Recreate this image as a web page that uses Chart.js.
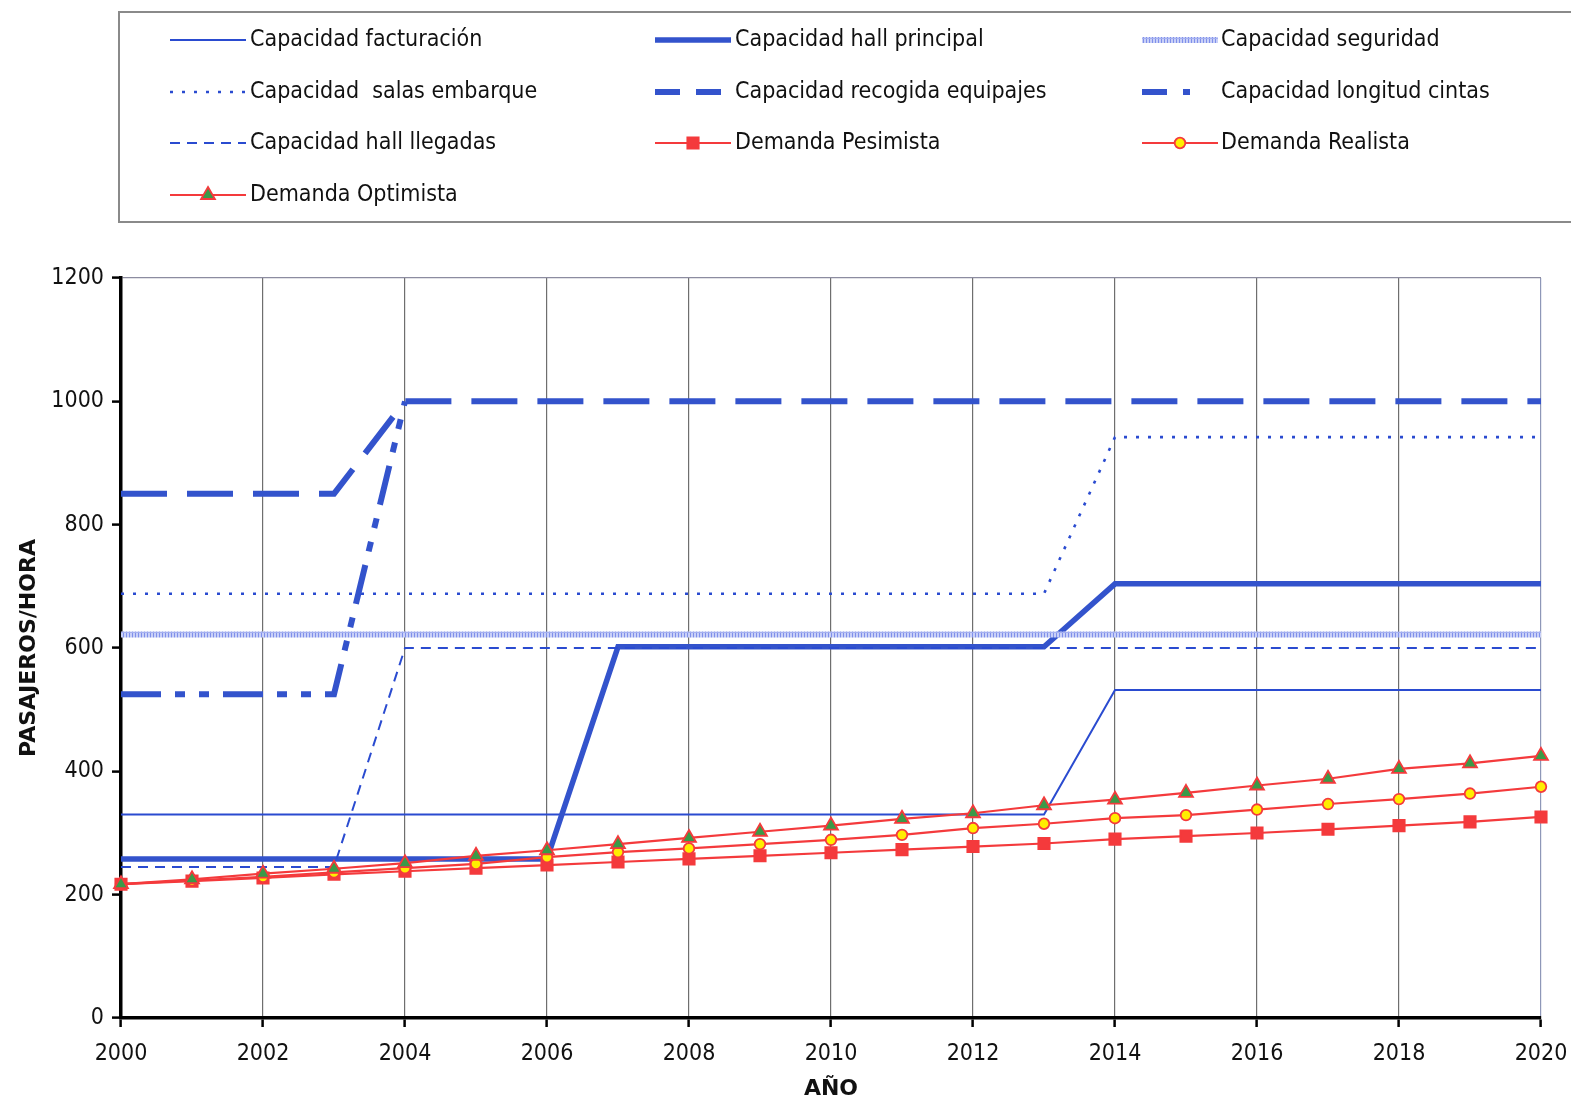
<!DOCTYPE html>
<html>
<head>
<meta charset="utf-8">
<script src="https://cdn.jsdelivr.net/npm/chart.js@4/dist/chart.umd.min.js"></script>
<style>
  html, body { margin: 0; padding: 0; background: #ffffff; }
  #wrap { width: 1571px; height: 1104px; }
</style>
</head>
<body>
<div id="wrap"><canvas id="c" width="1571" height="1104"></canvas></div>
<script>
// Years on the horizontal axis
const years = [2000,2001,2002,2003,2004,2005,2006,2007,2008,2009,2010,2011,2012,2013,2014,2015,2016,2017,2018,2019,2020];
const xTicks = [2000,2002,2004,2006,2008,2010,2012,2014,2016,2018,2020];
const yTicks = [0,200,400,600,800,1000,1200];

// Capacities (passengers / hour)
const capFacturacion   = [330,330,330,330,330,330,330,330,330,330,330,330,330,330,532,532,532,532,532,532,532];
const capHallPrincipal = [258,258,258,258,258,258,258,602,602,602,602,602,602,602,704,704,704,704,704,704,704];
const capSeguridad     = [622,622,622,622,622,622,622,622,622,622,622,622,622,622,622,622,622,622,622,622,622];
const capSalas         = [688,688,688,688,688,688,688,688,688,688,688,688,688,688,942,942,942,942,942,942,942];
const capRecogida      = [850,850,850,850,1000,1000,1000,1000,1000,1000,1000,1000,1000,1000,1000,1000,1000,1000,1000,1000,1000];
const capCintas        = [525,525,525,525,1000,null,null,null,null,null,null,null,null,null,null,null,null,null,null,null,null];
const capLlegadas      = [245,245,245,245,600,600,600,600,600,600,600,600,600,600,600,600,600,600,600,600,600];

// Demand scenarios
const demPesimista = [217,222,227,233,238,243,248,253,258,263,268,273,278,283,290,295,300,306,312,318,326];
const demRealista  = [217,223,229,236,243,250,261,269,275,282,289,297,308,315,324,329,338,347,355,364,375];
const demOptimista = [217,225,234,242,251,263,272,282,292,302,312,323,332,345,354,365,377,388,404,413,425];

const seriesNames = [
  'Capacidad facturación', 'Capacidad hall principal', 'Capacidad seguridad',
  'Capacidad  salas embarque', 'Capacidad recogida equipajes', 'Capacidad longitud cintas',
  'Capacidad hall llegadas', 'Demanda Pesimista', 'Demanda Realista',
  'Demanda Optimista'
];

const BLUE = '#2a4bd0';
const BLUE_THICK = '#3353cc';
const RED = '#f43a3c';

const FONT = '"DejaVu Sans Condensed", "DejaVu Sans", sans-serif';

// hatched light-blue stroke for the security capacity
function hatchPattern() {
  const p = document.createElement('canvas');
  p.width = 3; p.height = 6;
  const g = p.getContext('2d');
  g.fillStyle = '#c9d0f7'; g.fillRect(0, 0, 3, 6);
  g.fillStyle = '#7f90ea'; g.fillRect(0, 0, 1, 6);
  g.fillStyle = '#a4b0f0'; g.fillRect(0, 2, 3, 1);
  return document.getElementById('c').getContext('2d').createPattern(p, 'repeat');
}
const hatch = hatchPattern();

function pts(values) {
  return years.map((y, i) => ({ x: y, y: values[i] }));
}

function capDataset(label, values, color, width, dash) {
  return {
    label, data: pts(values), borderColor: color, backgroundColor: color,
    borderWidth: width, borderDash: dash, pointRadius: 0, fill: false,
    tension: 0, spanGaps: false, borderCapStyle: 'butt'
  };
}
function demDataset(label, values, style, radius, fillColor) {
  return {
    label, data: pts(values), borderColor: RED, borderWidth: 2.2, borderDash: [],
    pointStyle: style, pointRadius: radius, pointBorderWidth: 1.8,
    pointBackgroundColor: fillColor, pointBorderColor: RED,
    fill: false, tension: 0, clip: false
  };
}

const datasets = [
  capDataset(seriesNames[0], capFacturacion, BLUE, 2, []),
  capDataset(seriesNames[1], capHallPrincipal, BLUE_THICK, 5.5, []),
  capDataset(seriesNames[2], capSeguridad, hatch, 6, []),
  capDataset(seriesNames[3], capSalas, BLUE, 2.6, [3, 9]),
  capDataset(seriesNames[4], capRecogida, BLUE_THICK, 6, [46, 20]),
  capDataset(seriesNames[5], capCintas, BLUE_THICK, 6, [40, 14, 10, 14, 10, 14]),
  capDataset(seriesNames[6], capLlegadas, BLUE, 2, [10, 7]),
  demDataset(seriesNames[7], demPesimista, 'rect', 8, RED),
  demDataset(seriesNames[8], demRealista, 'circle', 5.3, '#ffee00'),
  demDataset(seriesNames[9], demOptimista, 'triangle', 8, '#3a9a48')
];
// later series are painted on top
datasets.forEach((d, i) => { d.order = datasets.length - i; });

// Legend drawn in a framed box above the plot, three columns
const legendBox = {
  id: 'legendBox',
  afterDraw(chart) {
    const ctx = chart.ctx;
    ctx.save();
    ctx.strokeStyle = '#8a8a8a';
    ctx.lineWidth = 2;
    ctx.strokeRect(119, 12, 1470, 210);

    const colSample = [170, 655, 1142];
    const colText = [250, 735, 1221];
    const rowY = [40, 92, 143, 195];
    ctx.font = '23px ' + FONT;
    ctx.textBaseline = 'middle';
    ctx.fillStyle = '#111111';
    datasets.forEach((d, i) => {
      const col = i % 3, row = Math.floor(i / 3);
      const x0 = colSample[col], x1 = x0 + 76, y = rowY[row];
      ctx.save();
      ctx.strokeStyle = d.borderColor;
      ctx.lineWidth = d.borderWidth;
      const dash = i === 4 ? [25, 16] : (i === 5 ? [25, 16, 7, 30] : (d.borderDash || []));
      ctx.setLineDash(dash);
      ctx.lineCap = 'butt';
      ctx.beginPath(); ctx.moveTo(x0, y); ctx.lineTo(x1, y); ctx.stroke();
      ctx.restore();
      if (d.pointStyle && d.pointRadius) {
        const cx = (x0 + x1) / 2;
        ctx.save();
        ctx.fillStyle = d.pointBackgroundColor;
        ctx.strokeStyle = d.pointBorderColor;
        ctx.lineWidth = d.pointBorderWidth;
        ctx.beginPath();
        const r = d.pointRadius;
        if (d.pointStyle === 'rect') {
          const s = r * Math.SQRT1_2;
          ctx.rect(cx - s, y - s, 2 * s, 2 * s);
        } else if (d.pointStyle === 'circle') {
          ctx.arc(cx, y, r, 0, Math.PI * 2);
        } else {
          ctx.moveTo(cx, y - r);
          ctx.lineTo(cx + r * Math.sin(Math.PI * 2 / 3), y - r * Math.cos(Math.PI * 2 / 3));
          ctx.lineTo(cx + r * Math.sin(Math.PI * 4 / 3), y - r * Math.cos(Math.PI * 4 / 3));
          ctx.closePath();
        }
        ctx.fill(); ctx.stroke();
        ctx.restore();
      }
      ctx.fillText(d.label, colText[col], y);
    });
    ctx.restore();
  }
};

const whiteBg = {
  id: 'whiteBg',
  beforeDraw(chart) {
    const ctx = chart.ctx;
    ctx.save();
    ctx.fillStyle = '#ffffff';
    ctx.fillRect(0, 0, chart.width, chart.height);
    ctx.restore();
  }
};

new Chart(document.getElementById('c'), {
  type: 'line',
  data: { datasets },
  plugins: [whiteBg, legendBox],
  options: {
    responsive: false,
    animation: false,
    layout: { padding: { top: 278, right: 30, left: 0, bottom: 0 } },
    plugins: { legend: { display: false }, tooltip: { enabled: false }, title: { display: false } },
    scales: {
      x: {
        type: 'linear', min: 2000, max: 2020,
        afterBuildTicks(scale) { scale.ticks = xTicks.map(v => ({ value: v })); },
        afterFit(scale) { scale.height = 86; scale.paddingLeft = 0; scale.paddingRight = 0; },
        ticks: { color: '#111111', font: { family: FONT, size: 23 }, padding: 13, maxRotation: 0, callback: v => String(v) },
        grid: {
          color: ctx => (ctx.tick && ctx.tick.value === 2020) ? '#8e97b8' : '#6e6e6e',
          lineWidth: 1.2, tickColor: '#000000', tickLength: 9, tickWidth: 2.5
        },
        border: { color: '#000000', width: 3.5 },
        title: { display: true, text: 'AÑO', color: '#111111', font: { family: '"DejaVu Sans", sans-serif', size: 22, weight: 'bold' }, padding: { top: 0, bottom: 2 } }
      },
      y: {
        type: 'linear', min: 0, max: 1200,
        afterBuildTicks(scale) { scale.ticks = yTicks.map(v => ({ value: v })); },
        afterFit(scale) { scale.width = 121; scale.paddingTop = 0; scale.paddingBottom = 0; },
        ticks: { color: '#111111', font: { family: FONT, size: 23 }, padding: 8, callback: v => String(v) },
        grid: {
          color: ctx => (ctx.tick && ctx.tick.value === 1200) ? '#8c8ca0' : 'rgba(0,0,0,0)',
          lineWidth: 1.2, tickColor: '#000000', tickLength: 9, tickWidth: 2.5
        },
        border: { color: '#000000', width: 3.5 },
        title: { display: true, text: 'PASAJEROS/HORA', color: '#111111', font: { family: '"DejaVu Sans", sans-serif', size: 22, weight: 'bold' }, padding: { top: 16, bottom: 0 } }
      }
    }
  }
});
</script>
</body>
</html>
